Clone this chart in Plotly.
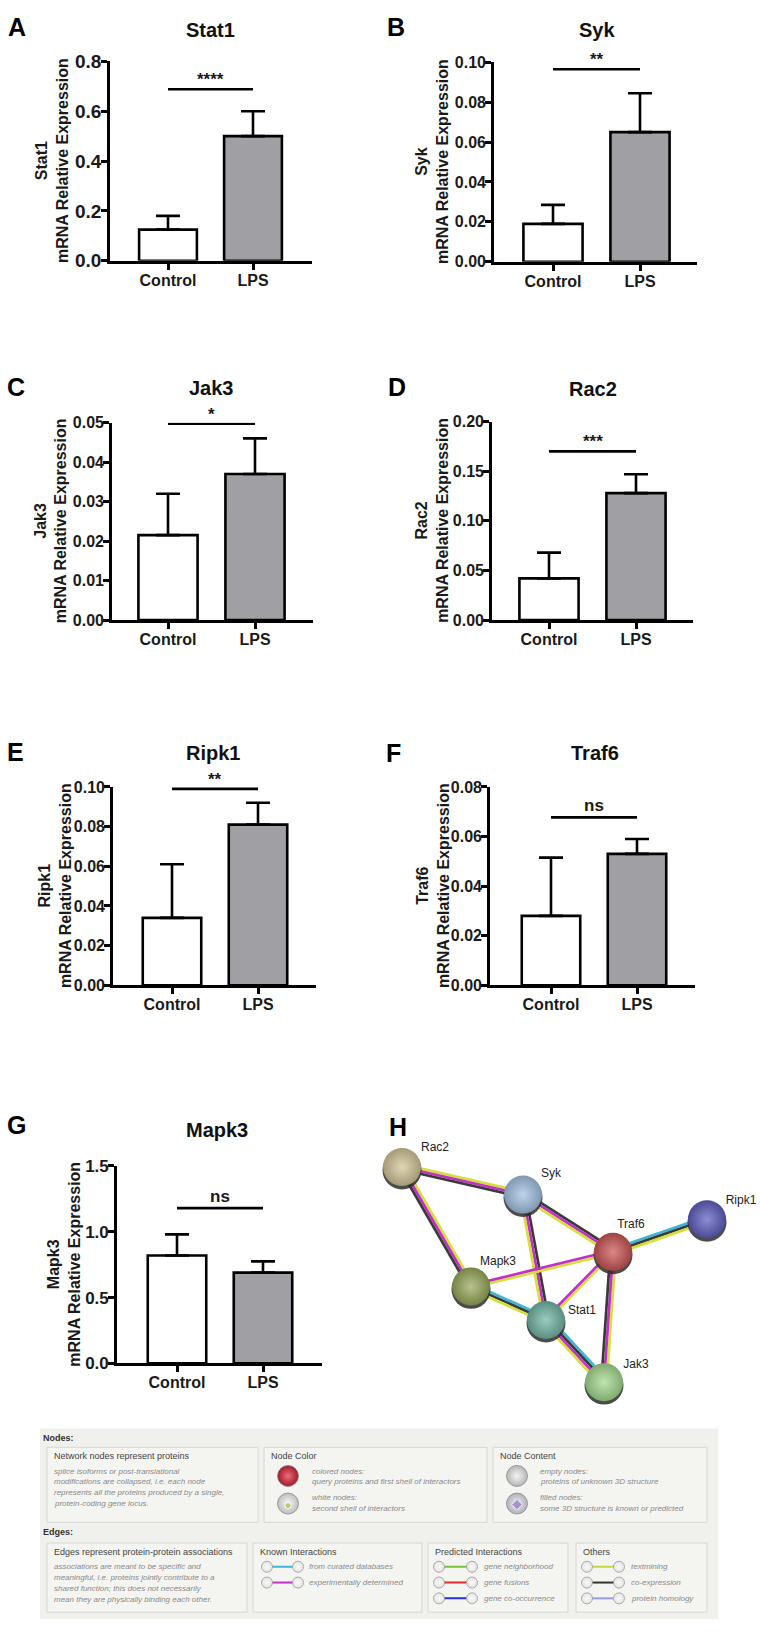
import plotly.graph_objects as go

W, H = 760, 1636
FONT = "Arial, Liberation Sans, sans-serif"

# ---------------- qPCR data (panels A-G) ----------------
genes = ["Stat1", "Syk", "Jak3", "Rac2", "Ripk1", "Traf6", "Mapk3"]
letters = ["A", "B", "C", "D", "E", "F", "G"]
groups = ["Control", "LPS"]
control_mean = [0.125, 0.019, 0.0215, 0.042, 0.034, 0.028, 0.82]
control_err = [0.055, 0.0095, 0.0105, 0.026, 0.027, 0.0235, 0.16]
lps_mean = [0.50, 0.065, 0.037, 0.128, 0.081, 0.053, 0.69]
lps_err = [0.10, 0.0195, 0.009, 0.019, 0.011, 0.006, 0.085]
sig_level = [0.688, 0.0965, 0.0497, 0.170, 0.099, 0.0677, 1.18]
sig_label = ["****", "**", "*", "***", "**", "ns", "ns"]
y_max = [0.8, 0.10, 0.05, 0.20, 0.10, 0.08, 1.5]
y_step = [0.2, 0.02, 0.01, 0.05, 0.02, 0.02, 0.5]
y_fmt = [".1f", ".2f", ".2f", ".2f", ".2f", ".2f", ".1f"]

# ---------------- network data (panel H) ----------------
node_names = ["Rac2", "Syk", "Traf6", "Ripk1", "Mapk3", "Stat1", "Jak3"]
node_x = [402, 523, 613, 707, 471, 546, 604]
node_y = [1172, 1200, 1258, 1225, 1293, 1327, 1390]
node_label_dx = [33, 28, 18, 34, 27, 36, 32]
node_label_dy = [-19, -21, -27, -19, -25, -9, -17]
edge_from = ["Rac2", "Rac2", "Syk", "Syk", "Traf6", "Traf6", "Traf6", "Traf6", "Mapk3", "Stat1"]
edge_to = ["Syk", "Mapk3", "Traf6", "Stat1", "Ripk1", "Mapk3", "Stat1", "Jak3", "Stat1", "Jak3"]
edge_evidence = [
    ["text", "exp", "coexp"],
    ["text", "exp", "coexp"],
    ["coexp", "exp", "text"],
    ["coexp", "exp", "text"],
    ["db", "coexp", "text"],
    ["text", "exp"],
    ["text", "exp"],
    ["text", "exp", "coexp"],
    ["db", "coexp", "text"],
    ["db", "coexp", "exp", "text"],
]

# ---------------- styling / placement ----------------
bar_fill = ["#ffffff", "#a0a0a4"]
evidence_color = {"text": "#d4df3a", "exp": "#c22fc9", "coexp": "#3a3a3a", "db": "#3fb6d6"}
node_base = ["#d4c597", "#a3c2e3", "#cc5555", "#5d5dc0", "#98a95a", "#72b6a4", "#a4da8e"]

# pixel boxes: y-axis x, x-axis end, top(y max), bottom(0), Control centre, LPS centre, y-title x
panel_px = [
    (110, 312, 52, 254, 168, 253, 52),
    (494, 697, 53, 255, 553, 640, 432),
    (112, 313, 418, 618, 168, 255, 51),
    (492, 693, 417, 618, 549, 636, 432),
    (113, 316, 787, 988, 172, 258, 55),
    (490, 695, 787, 988, 551, 637, 433),
    (117, 322, 1171, 1371, 177, 263, 64),
]
title_px = [(210, 20), (597, 20), (212, 383), (593, 384), (213, 753), (595, 753), (217, 1135)]
letter_px = [(17, 17), (396, 17), (16, 382), (397, 382), (15, 752), (393, 753), (16, 1130)]
tick_size = [19, 16, 16, 16, 16, 16, 17]


def mix(c, other, t):
    a = [int(c[i:i + 2], 16) for i in (1, 3, 5)]
    b = [int(other[i:i + 2], 16) for i in (1, 3, 5)]
    return "#" + "".join(f"{round(a[k] + (b[k] - a[k]) * t):02x}" for k in range(3))


fig = go.Figure()
layout = {}
annotations = []
shapes = []

for i, g in enumerate(genes):
    n = i + 1
    xa = "x" if n == 1 else f"x{n}"
    ya = "y" if n == 1 else f"y{n}"
    left, right, top, bottom, c0, c1, tx = panel_px[i]
    sp = c1 - c0
    xr = [(left - c0) / sp, 1 + (right - c1) / sp]
    fig.add_trace(go.Bar(
        x=[0, 1], y=[control_mean[i], lps_mean[i]], width=0.68,
        marker=dict(color=bar_fill, line=dict(color="black", width=2.6)),
        error_y=dict(type="data", symmetric=False, array=[control_err[i], lps_err[i]],
                     arrayminus=[0, 0], color="black", thickness=2.6, width=12),
        xaxis=xa, yaxis=ya, showlegend=False, hoverinfo="skip"))
    fig.add_trace(go.Scatter(
        x=[0, 1], y=[sig_level[i], sig_level[i]], mode="lines",
        line=dict(color="black", width=2.6), xaxis=xa, yaxis=ya,
        showlegend=False, hoverinfo="skip"))
    annotations.append(dict(
        x=0.5, y=sig_level[i], xref=xa, yref=ya, text=sig_label[i], showarrow=False,
        yanchor="bottom", yshift=-2 if sig_label[i] != "ns" else 0,
        font=dict(size=17, family=FONT, color="#1a1a1a", weight="bold")))
    xkey = "xaxis" if n == 1 else f"xaxis{n}"
    ykey = "yaxis" if n == 1 else f"yaxis{n}"
    layout[xkey] = dict(
        domain=[left / W, right / W], anchor=ya, range=xr,
        tickmode="array", tickvals=[0, 1], ticktext=groups,
        showline=True, linecolor="black", linewidth=2.6,
        ticks="outside", ticklen=6, tickwidth=2.6, tickcolor="black",
        ticklabelstandoff=-3,
        showgrid=False, zeroline=False, fixedrange=True,
        tickfont=dict(size=16, family=FONT, color="#1a1a1a", weight="bold"))
    layout[ykey] = dict(
        domain=[1 - bottom / H, 1 - top / H], anchor=xa, range=[0, y_max[i]],
        tickmode="linear", tick0=0, dtick=y_step[i], tickformat=y_fmt[i],
        showline=True, linecolor="black", linewidth=2.6,
        ticks="outside", ticklen=6, tickwidth=2.6, tickcolor="black",
        ticklabelstandoff=-4,
        showgrid=False, zeroline=False, fixedrange=True,
        tickfont=dict(size=tick_size[i], family=FONT, color="#1a1a1a", weight="bold"))
    annotations.append(dict(
        x=tx / W, y=1 - (top + bottom) / 2 / H, xref="paper", yref="paper",
        text=f"{g}<br>mRNA Relative Expression", textangle=-90, showarrow=False,
        xanchor="center", yanchor="middle",
        font=dict(size=16, family=FONT, color="#1a1a1a", weight="bold")))
    annotations.append(dict(
        x=title_px[i][0] / W, y=1 - title_px[i][1] / H, xref="paper", yref="paper",
        text=g, showarrow=False, xanchor="center", yanchor="middle",
        font=dict(size=20, family=FONT, color="#111", weight="bold")))
    annotations.append(dict(
        x=letter_px[i][0] / W, y=1 - letter_px[i][1] / H, xref="paper", yref="paper",
        text=letters[i], showarrow=False, xanchor="center", yanchor="middle",
        font=dict(size=25, family=FONT, color="#000", weight="bold")))

# ---------------- overlay axis in pixel units (network + legend) ----------------
OX, OY = "x8", "y8"
layout["xaxis8"] = dict(domain=[0, 1], range=[0, W], visible=False, anchor=OY, fixedrange=True)
layout["yaxis8"] = dict(domain=[0, 1], range=[H, 0], visible=False, anchor=OX, fixedrange=True)

annotations.append(dict(x=398, y=1132, xref=OX, yref=OY, text="H", showarrow=False,
                        xanchor="center", yanchor="middle",
                        font=dict(size=25, family=FONT, color="#000", weight="bold")))

pos = {nm: (node_x[k], node_y[k]) for k, nm in enumerate(node_names)}
for a, b, ev in zip(edge_from, edge_to, edge_evidence):
    x0, y0 = pos[a]
    x1, y1 = pos[b]
    dx, dy = x1 - x0, y1 - y0
    L = (dx * dx + dy * dy) ** 0.5
    nx, ny = -dy / L, dx / L
    m = len(ev)
    for k, e in enumerate(ev):
        off = (k - (m - 1) / 2) * 2.7
        fig.add_trace(go.Scatter(
            x=[x0 + nx * off, x1 + nx * off], y=[y0 + ny * off, y1 + ny * off],
            mode="lines", line=dict(color=evidence_color[e], width=2.7),
            xaxis=OX, yaxis=OY, showlegend=False, hoverinfo="skip"))

fig.add_trace(go.Scatter(
    x=node_x, y=[v + 3 for v in node_y], mode="markers",
    marker=dict(size=39, color="rgba(45,45,45,0.85)", line=dict(width=0)),
    xaxis=OX, yaxis=OY, showlegend=False, hoverinfo="skip"))
fig.add_trace(go.Scatter(
    x=node_x, y=node_y, mode="markers",
    marker=dict(size=38, color=[mix(c, "#000000", 0.22) for c in node_base],
                gradient=dict(type="radial", color=[mix(c, "#ffffff", 0.3) for c in node_base]),
                line=dict(width=0)),
    xaxis=OX, yaxis=OY, showlegend=False, hoverinfo="skip"))
fig.add_trace(go.Scatter(
    x=[node_x[k] + node_label_dx[k] for k in range(len(node_names))],
    y=[node_y[k] + node_label_dy[k] for k in range(len(node_names))],
    mode="text", text=node_names, textposition="middle center",
    textfont=dict(size=12, family=FONT, color="#222"),
    xaxis=OX, yaxis=OY, showlegend=False, hoverinfo="skip"))

# ---------------- STRING legend ----------------
shapes.append(dict(type="rect", xref=OX, yref=OY, x0=40, x1=718, y0=1437, y1=1630,
                   fillcolor="#f0f0ec", line=dict(width=0), layer="below"))
boxes = [(47, 1456, 258, 1532), (264, 1456, 487, 1532), (493, 1456, 707, 1532),
         (47, 1553, 247, 1623), (253, 1553, 422, 1623), (428, 1553, 568, 1623), (576, 1553, 707, 1623)]
box_titles = ["Network nodes represent proteins", "Node Color", "Node Content",
              "Edges represent protein-protein associations", "Known Interactions",
              "Predicted Interactions", "Others"]
for (bx0, by0, bx1, by1), t in zip(boxes, box_titles):
    shapes.append(dict(type="rect", xref=OX, yref=OY, x0=bx0, x1=bx1, y0=by0, y1=by1,
                       fillcolor="#f4f4f1", line=dict(color="#d6d6d2", width=1), layer="below"))
    annotations.append(dict(x=bx0 + 5, y=by0 + 9, xref=OX, yref=OY, text=t, showarrow=False,
                            xanchor="left", yanchor="middle",
                            font=dict(size=9, family=FONT, color="#444")))

for t, yy in (("Nodes:", 1447), ("Edges:", 1542)):
    annotations.append(dict(x=41, y=yy, xref=OX, yref=OY, text=t, showarrow=False,
                            xanchor="left", yanchor="middle",
                            font=dict(size=9, family=FONT, color="#333", weight="bold")))


def legend_text(x, y, t):
    annotations.append(dict(x=x, y=y, xref=OX, yref=OY, text=t, showarrow=False,
                            xanchor="left", yanchor="middle",
                            font=dict(size=8, family=FONT, color="#8a8a8a", style="italic")))


nodes_desc = ["splice isoforms or post-translational", "modifications are collapsed, i.e. each node",
              "represents all the proteins produced by a single,", "protein-coding gene locus."]
edges_desc = ["associations are meant to be specific and", "meaningful, i.e. proteins jointly contribute to a",
              "shared function; this does not necessarily", "mean they are physically binding each other."]
for k, t in enumerate(nodes_desc):
    legend_text(52, 1480 + 11 * k, t)
for k, t in enumerate(edges_desc):
    legend_text(52, 1577 + 11 * k, t)

for t, yy in (("colored nodes:", 1480), ("query proteins and first shell of interactors", 1491),
              ("white nodes:", 1507), ("second shell of interactors", 1518)):
    legend_text(310, yy, t)
for t, yy in (("empty nodes:", 1480), ("proteins of unknown 3D structure", 1491),
              ("filled nodes:", 1507), ("some 3D structure is known or predicted", 1518)):
    legend_text(538, yy, t)

fig.add_trace(go.Scatter(
    x=[288, 288, 517, 517], y=[1485, 1513, 1485, 1513], mode="markers",
    marker=dict(size=21, color=["#a01828", "#bdbdbd", "#b5b5b5", "#b0b0b8"],
                gradient=dict(type="radial", color=["#e8707e", "#f8f8f8", "#f4f4f4", "#f0f0f4"]),
                line=dict(color="#8a8a8a", width=0.8)),
    xaxis=OX, yaxis=OY, showlegend=False, hoverinfo="skip"))
fig.add_trace(go.Scatter(
    x=[288, 517], y=[1515, 1514], mode="markers",
    marker=dict(size=[6, 8], color=["#b8b840", "#8f6fc4"], symbol=["circle", "diamond"]),
    xaxis=OX, yaxis=OY, showlegend=False, hoverinfo="skip"))

edge_legend = [
    (267, 298, 307, ["from curated databases", "experimentally determined"], ["#3fb6d6", "#c22fc9"]),
    (439, 472, 482, ["gene neighborhood", "gene fusions", "gene co-occurrence"], ["#77c43a", "#e02a2a", "#2233dd"]),
    (587, 619, 629, ["textmining", "co-expression", "protein homology"], ["#c8d83a", "#333333", "#9a9aee"]),
]
for lx0, lx1, tx, labels, cols in edge_legend:
    for k, (lab, col) in enumerate(zip(labels, cols)):
        yy = 1577 + 16 * k
        fig.add_trace(go.Scatter(x=[lx0, lx1], y=[yy, yy], mode="lines",
                                 line=dict(color=col, width=2), xaxis=OX, yaxis=OY,
                                 showlegend=False, hoverinfo="skip"))
        fig.add_trace(go.Scatter(x=[lx0, lx1], y=[yy, yy], mode="markers",
                                 marker=dict(size=11, color="#e4e4e4",
                                             gradient=dict(type="radial", color="#fafafa"),
                                             line=dict(color="#9a9a9a", width=0.8)),
                                 xaxis=OX, yaxis=OY, showlegend=False, hoverinfo="skip"))
        legend_text(tx, yy, lab)

fig.update_layout(
    width=W, height=H, autosize=False,
    margin=dict(l=0, r=0, t=0, b=0),
    paper_bgcolor="white", plot_bgcolor="rgba(0,0,0,0)",
    showlegend=False, annotations=annotations, shapes=shapes,
    font=dict(family=FONT),
    **layout)

fig.write_html("out.html", config={"displayModeBar": False},
               post_script="document.body.style.margin='0';document.body.style.overflow='hidden';")
